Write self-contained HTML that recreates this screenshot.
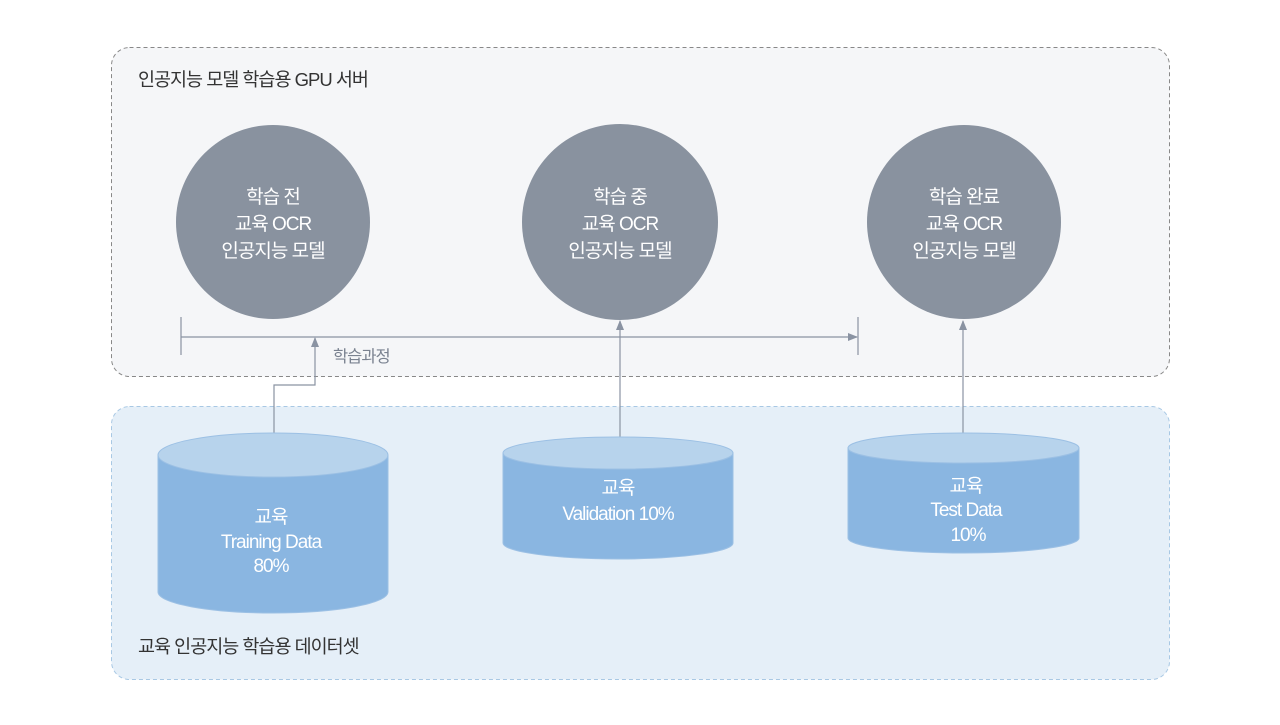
<!DOCTYPE html>
<html><head><meta charset="utf-8"><style>
body{margin:0;background:#fff}
text{font-family:"Liberation Sans","Noto Sans CJK KR",sans-serif;letter-spacing:-1px}
</style></head><body>
<svg width="1280" height="720" viewBox="0 0 1280 720" xmlns="http://www.w3.org/2000/svg">
<defs><marker id="a" markerWidth="10" markerHeight="10" refX="9" refY="5" orient="auto" markerUnits="userSpaceOnUse"><path d="M0,1 L10,5 L0,9 Z" fill="#8a93a2"/></marker></defs>
<rect x="111.5" y="47.5" width="1058" height="329" rx="18" fill="#f5f6f8" stroke="#888" stroke-dasharray="4,3"/>
<rect x="111.5" y="406.5" width="1058" height="273" rx="18" fill="#e5eff8" stroke="#a8c8e4" stroke-dasharray="4,3"/>
<text x="138" y="86" font-size="18.5" fill="#333">인공지능 모델 학습용 GPU 서버</text>
<text x="138" y="653" font-size="18.5" fill="#333">교육 인공지능 학습용 데이터셋</text>
<g fill="#89929f"><circle cx="273" cy="222" r="97"/><circle cx="620" cy="222" r="98"/><circle cx="964" cy="222" r="97"/></g>
<g font-size="19" fill="#fff" text-anchor="middle">
<text x="273" y="203">학습 전</text><text x="273" y="230">교육 OCR</text><text x="273" y="257">인공지능 모델</text>
<text x="620" y="203">학습 중</text><text x="620" y="230">교육 OCR</text><text x="620" y="257">인공지능 모델</text>
<text x="964" y="203">학습 완료</text><text x="964" y="230">교육 OCR</text><text x="964" y="257">인공지능 모델</text>
</g>
<g stroke="#8a93a2" stroke-width="1.2" fill="none">
<line x1="181" y1="317" x2="181" y2="355"/><line x1="858" y1="317" x2="858" y2="355"/>
<line x1="181" y1="337" x2="857" y2="337" marker-end="url(#a)"/>
<polyline points="274,433 274,385 315,385 315,338" marker-end="url(#a)"/>
<line x1="620" y1="437" x2="620" y2="321" marker-end="url(#a)"/>
<line x1="963" y1="433" x2="963" y2="321" marker-end="url(#a)"/>
</g>
<text x="333" y="362" font-size="16.5" fill="#7a8290">학습과정</text>
<g stroke="#9cc0e4" stroke-width="1">
<path d="M158,455 L158,592 A115,21 0 0 0 388,592 L388,455 Z" fill="#8ab6e1"/>
<ellipse cx="273" cy="455" rx="115" ry="22" fill="#b7d3ec"/>
<path d="M503,453 L503,543 A115,16 0 0 0 733,543 L733,453 Z" fill="#8ab6e1"/>
<ellipse cx="618" cy="453" rx="115" ry="16" fill="#b7d3ec"/>
<path d="M848,448 L848,538 A115.5,15 0 0 0 1079,538 L1079,448 Z" fill="#8ab6e1"/>
<ellipse cx="963.5" cy="448" rx="115.5" ry="15" fill="#b7d3ec"/>
</g>
<g font-size="19" fill="#fff" text-anchor="middle">
<text x="271" y="523">교육</text><text x="271" y="548">Training Data</text><text x="271" y="572">80%</text>
<text x="618" y="494">교육</text><text x="618" y="520">Validation 10%</text>
<text x="966" y="492">교육</text><text x="966" y="516">Test Data</text><text x="968" y="541">10%</text>
</g>
</svg>
</body></html>
